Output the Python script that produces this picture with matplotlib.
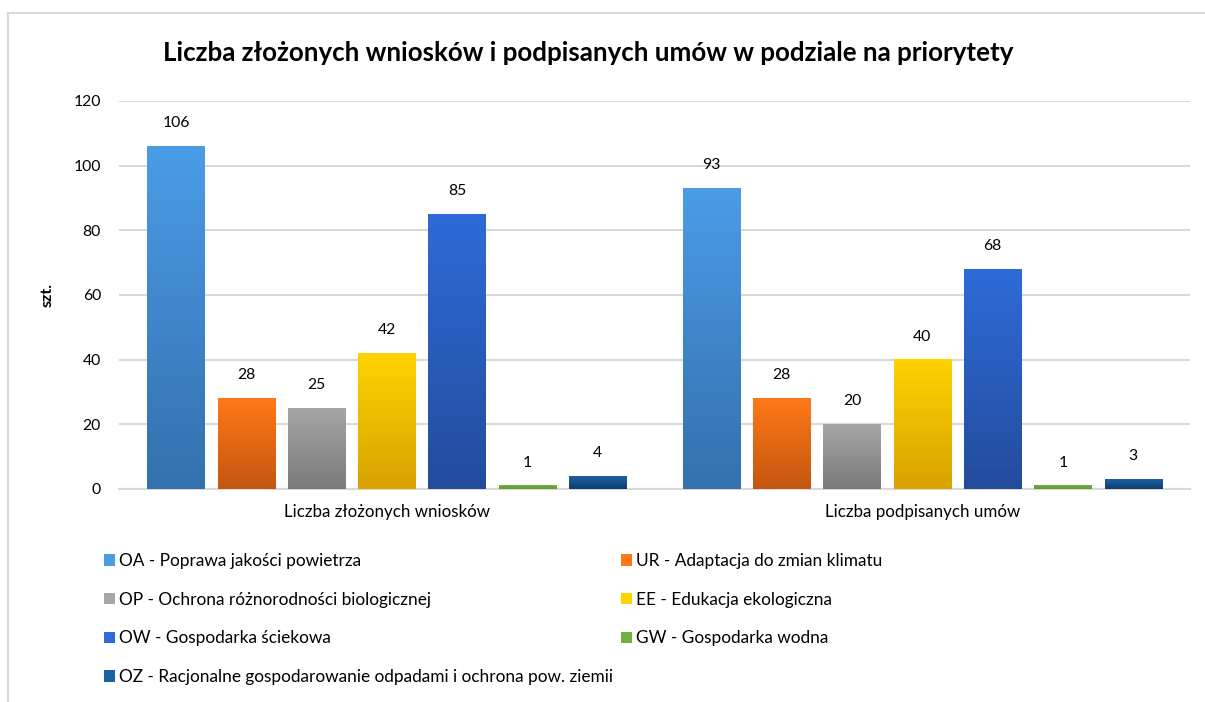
import matplotlib
matplotlib.use("Agg")
import matplotlib.pyplot as plt
import numpy as np
from matplotlib.colors import LinearSegmentedColormap
from matplotlib.patches import Rectangle

plt.rcParams["font.family"] = ["Lato", "DejaVu Sans"]

categories = ["Liczba złożonych wniosków", "Liczba podpisanych umów"]
series_names = [
    "OA - Poprawa jakości powietrza",
    "UR - Adaptacja do zmian klimatu",
    "OP - Ochrona różnorodności biologicznej",
    "EE - Edukacja ekologiczna",
    "OW - Gospodarka ściekowa",
    "GW - Gospodarka wodna",
    "OZ - Racjonalne gospodarowanie odpadami i ochrona pow. ziemii",
]
values = [
    [106, 93],
    [28, 28],
    [25, 20],
    [42, 40],
    [85, 68],
    [1, 1],
    [4, 3],
]
# gradient colours: (top, bottom)
colors = [
    ("#4A9CE6", "#3470AE"),
    ("#FF7818", "#C4560F"),
    ("#A6A6A6", "#7A7A7A"),
    ("#FFD200", "#D9A200"),
    ("#2E6BD8", "#234C9C"),
    ("#70B040", "#5E9A34"),
    ("#1E61A3", "#0D3E6E"),
]

W, H = 1205, 702


def text_width(fig, s, size, **kw):
    t = fig.text(0, 0, s, fontsize=size, **kw)
    w = t.get_window_extent(fig.canvas.get_renderer()).width
    t.remove()
    return w


def main():
    fig = plt.figure(figsize=(W / 100, H / 100), dpi=100)
    ax = fig.add_axes([119 / W, 1 - 489 / H, (1190 - 119) / W, (489 - 101) / H])
    fig.canvas.draw()

    # font sizes matched to the text widths of the original
    num_fs = 10 * 27.5 / text_width(fig, "106", 10)
    cat_fs = 10 * 205 / text_width(fig, categories[0], 10)
    leg_fs = 10 * 494 / text_width(fig, series_names[6], 10)
    title = "Liczba złożonych wniosków i podpisanych umów w podziale na priorytety"
    title_fs = 10 * 850 / text_width(fig, title, 10, fontweight="bold")
    ylab_fs = 10 * 24 / text_width(fig, "szt.", 10, fontweight="bold")

    px = 120 / (489 - 101)  # data units per pixel
    x = np.arange(len(categories))
    pitch = 0.1312
    width = 0.1065
    n = len(series_names)
    handles = []
    for i, (name, vals, (top, bot)) in enumerate(zip(series_names, values, colors)):
        offs = (i - (n - 1) / 2) * pitch
        cmap = LinearSegmentedColormap.from_list(f"g{i}", [bot, top])
        grad = np.linspace(1, 0, 100).reshape(-1, 1)
        for xi, v in zip(x, vals):
            x0 = xi + offs - width / 2
            ax.imshow(grad, extent=[x0, x0 + width, 0, v], aspect="auto",
                      cmap=cmap, vmin=0, vmax=1, zorder=3, interpolation="bicubic")
            ax.text(xi + offs, v + 23 * px, str(v), ha="center", va="center",
                    fontsize=num_fs, color="#000000", zorder=4)
        handles.append(Rectangle((0, 0), 1, 1, facecolor=top, edgecolor="none"))

    ax.set_xlim(-0.5, 1.5)
    ax.set_ylim(0, 120)
    ax.set_yticks(range(0, 121, 20))
    ax.set_xticks(x)
    ax.set_xticklabels(categories, fontsize=cat_fs)
    ax.tick_params(axis="y", length=0, pad=13, labelsize=num_fs)
    ax.tick_params(axis="x", length=0, pad=11)
    ax.grid(axis="y", color="#D9D9D9", linewidth=1.5, zorder=0)
    ax.set_axisbelow(True)
    for s in ["top", "right", "left"]:
        ax.spines[s].set_visible(False)
    ax.spines["bottom"].set_color("#D9D9D9")
    ax.spines["bottom"].set_linewidth(1.5)
    ax.set_ylabel("szt.", fontsize=ylab_fs, fontweight="bold")
    ax.yaxis.set_label_coords(55 / W, 1 - 295 / H, transform=fig.transFigure)

    fig.text(588 / W, 1 - 53 / H, title, ha="center", va="center",
             fontsize=title_fs, fontweight="bold")

    # legend is filled column-wise, reorder so rows match the reference
    order = [0, 2, 4, 6, 1, 3, 5]
    fs_px = leg_fs * 100 / 72
    anchor = [100 / W, 1 - 545 / H]
    lspace, cspace = 1.0, 0.4
    for _ in range(3):
        leg = fig.legend([handles[k] for k in order], [series_names[k] for k in order],
                         ncol=2, loc="upper left", bbox_to_anchor=anchor,
                         frameon=False, fontsize=leg_fs, handlelength=11 / fs_px,
                         handleheight=11 / fs_px, handletextpad=4 / fs_px,
                         columnspacing=cspace, labelspacing=lspace, borderpad=0.3)
        fig.canvas.draw()
        r = fig.canvas.get_renderer()
        boxes = [t.get_window_extent(r) for t in leg.get_texts()]
        oa, op, ur = boxes[0], boxes[1], boxes[4]
        cy0 = H - (oa.y0 + oa.y1) / 2
        cy1 = H - (op.y0 + op.y1) / 2
        anchor = [anchor[0] + (119 - oa.x0) / W, anchor[1] - (561 - cy0) / H]
        lspace += ((38.7 - (cy1 - cy0)) / fs_px)
        cspace += (636 - ur.x0) / fs_px
        leg.remove()
    fig.legend([handles[k] for k in order], [series_names[k] for k in order],
               ncol=2, loc="upper left", bbox_to_anchor=anchor,
               frameon=False, fontsize=leg_fs, handlelength=11 / fs_px,
               handleheight=11 / fs_px, handletextpad=4 / fs_px,
               columnspacing=cspace, labelspacing=lspace, borderpad=0.3)

    fig.patches.append(Rectangle((8 / W, -0.1), 1.5, 1 - 13 / H + 0.1,
                                 transform=fig.transFigure, fill=False,
                                 edgecolor="#D9D9D9", linewidth=1.5))

    fig.savefig("out.png", dpi=100)
    plt.close(fig)


if __name__ == "__main__":
    main()
